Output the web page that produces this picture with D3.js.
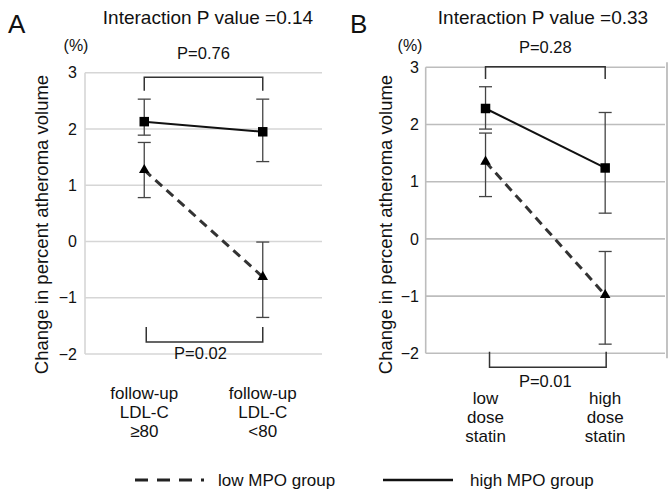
<!DOCTYPE html>
<html><head><meta charset="utf-8">
<script src="https://cdnjs.cloudflare.com/ajax/libs/d3/7.8.5/d3.min.js"></script>
<style>
body{margin:0;background:#fff;}
svg{display:block;font-family:"Liberation Sans",Arial,Helvetica,sans-serif;}
</style></head>
<body><svg id="c" width="669" height="491"></svg>
<script>
// ---- data ----
const panelLetters = ["A", "B"];
const interactionTitles = ["Interaction P value =0.14", "Interaction P value =0.33"];
const yTicks = [3, 2, 1, 0, -1, -2];
const categoriesA = ["follow-up\nLDL-C\n≥80", "follow-up\nLDL-C\n<80"];
const categoriesB = ["low\ndose\nstatin", "high\ndose\nstatin"];
// high MPO group (mean, lower, upper)
const highA = [2.13, 1.95];
const highALow = [1.89, 1.42];
const highAHigh = [2.53, 2.53];
const highB = [2.28, 1.24];
const highBLow = [1.92, 0.45];
const highBHigh = [2.66, 2.21];
// low MPO group
const lowA = [1.27, -0.63];
const lowALow = [0.78, -1.35];
const lowAHigh = [1.76, -0.01];
const lowB = [1.35, -0.98];
const lowBLow = [0.74, -1.84];
const lowBHigh = [1.85, -0.22];
const pTop = ["P=0.76", "P=0.28"];
const pBottom = ["P=0.02", "P=0.01"];
const yTitle = "Change in percent atheroma volume";
const legendLabels = ["low MPO group", "high MPO group"];

// ---- layout ----
const svg = d3.select("#c");
const panels = [
  {cats: categoriesA, high: highA, highLo: highALow, highHi: highAHigh,
   low: lowA, lowLo: lowALow, lowHi: lowAHigh,
   x0: 85, x1: 322, yTop: 72.7, yBot: 354, grid: "#d6d6d6", right: false,
   letterX: 8, titleX: 208, pctX: 76, tickX: 77, ytitleX: 41,
   topBr: [4.6, 18], botBr: [-12, -27], botLbl: -1.5, catY: 393},
  {cats: categoriesB, high: highB, highLo: highBLow, highHi: highBHigh,
   low: lowB, lowLo: lowBLow, lowHi: lowBHigh,
   x0: 425.7, x1: 665, yTop: 67.3, yBot: 353.3, grid: "#bdbdbd", right: true,
   letterX: 350, titleX: 543, pctX: 410, tickX: 419, ytitleX: 385,
   topBr: [-0.6, 11.7], botBr: [14, -1.6], botLbl: 27.4, catY: 398}
];

panels.forEach((p, i) => {
  const g = svg.append("g");
  const y = d3.scaleLinear().domain([-2, 3]).range([p.yBot, p.yTop]);
  const x = d3.scalePoint().domain(p.cats).range([p.x0, p.x1]).padding(0.5);

  // grid lines
  g.selectAll(".grid").data(yTicks).join("line")
    .attr("x1", p.x0).attr("x2", p.x1)
    .attr("y1", d => y(d)).attr("y2", d => y(d))
    .attr("stroke", p.grid).attr("stroke-width", 1.6);
  // left axis line
  g.append("line").attr("x1", p.x0).attr("x2", p.x0)
    .attr("y1", y(3)).attr("y2", y(-2)).attr("stroke", p.grid).attr("stroke-width", 1.6);
  if (p.right) {
    g.append("line").attr("x1", 667).attr("x2", 667)
      .attr("y1", y(3) - 5).attr("y2", y(-2) + 5).attr("stroke", "#9a9a9a").attr("stroke-width", 1.2);
  }
  // y tick labels via axis
  const ax = g.append("g").attr("transform", `translate(${p.tickX},0)`)
    .call(d3.axisLeft(y).tickValues(yTicks).tickSize(0).tickPadding(0)
      .tickFormat(d => d < 0 ? "\u2212" + Math.abs(d) : d));
  ax.select(".domain").remove();
  ax.selectAll("text").attr("font-size", 16).attr("fill", "#111")
    .attr("font-family", "Liberation Sans, Arial, sans-serif");

  // panel letter and title
  g.append("text").attr("x", p.letterX).attr("y", 33).text(panelLetters[i])
    .attr("font-size", 26).attr("fill", "#111");
  g.append("text").attr("x", p.titleX).attr("y", 24).attr("text-anchor", "middle")
    .text(interactionTitles[i]).attr("font-size", 19).attr("fill", "#111");
  g.append("text").attr("x", p.pctX).attr("y", 51).attr("text-anchor", "middle")
    .text("(%)").attr("font-size", 16).attr("fill", "#111");
  g.append("text").attr("transform", `translate(${p.ytitleX},224.5) rotate(-90)`)
    .attr("text-anchor", "middle").attr("dominant-baseline", "central")
    .text(yTitle).attr("font-size", 18.5).attr("fill", "#111");

  // category labels
  p.cats.forEach(c => {
    const t = g.append("text").attr("text-anchor", "middle").attr("font-size", 17).attr("fill", "#111");
    c.split("\n").forEach((ln, k) => {
      t.append("tspan").attr("x", x(c)).attr("y", p.catY + 6 + k * 19).text(ln);
    });
  });

  // brackets
  const xa = x(p.cats[0]), xb = x(p.cats[1]);
  const tY = y(3) + p.topBr[0], tY2 = y(3) + p.topBr[1];
  g.append("path").attr("d", `M${xa},${tY2}V${tY}H${xb}V${tY2}`)
    .attr("fill", "none").attr("stroke", "#333").attr("stroke-width", 1.5);
  g.append("text").attr("x", (xa + xb) / 2).attr("y", y(3) - 14).attr("text-anchor", "middle")
    .text(pTop[i]).attr("font-size", 16.5).attr("fill", "#111");
  const bY = y(-2) + p.botBr[0], bY2 = y(-2) + p.botBr[1];
  const xa2 = xa + (i === 0 ? 2 : 4), xb2 = xb + (i === 0 ? 0 : 1);
  g.append("path").attr("d", `M${xa2},${bY2}V${bY}H${xb2}V${bY2}`)
    .attr("fill", "none").attr("stroke", "#333").attr("stroke-width", 1.5);
  g.append("text").attr("x", (xa + xb) / 2 - (i === 0 ? 3 : 0)).attr("y", y(-2) + p.botLbl + 6).attr("text-anchor", "middle")
    .text(pBottom[i]).attr("font-size", 16.5).attr("fill", "#111");

  // error bars
  const series = [
    {m: p.high, lo: p.highLo, hi: p.highHi},
    {m: p.low, lo: p.lowLo, hi: p.lowHi}
  ];
  series.forEach(s => {
    p.cats.forEach((c, k) => {
      const cx = x(c);
      g.append("line").attr("x1", cx).attr("x2", cx).attr("y1", y(s.lo[k])).attr("y2", y(s.hi[k]))
        .attr("stroke", "#444").attr("stroke-width", 1.3);
      [s.lo[k], s.hi[k]].forEach(v => {
        g.append("line").attr("x1", cx - 6.5).attr("x2", cx + 6.5).attr("y1", y(v)).attr("y2", y(v))
          .attr("stroke", "#444").attr("stroke-width", 1.3);
      });
    });
  });

  // lines
  const line = d3.line().x(d => x(d.c)).y(d => y(d.v));
  g.append("path").datum(p.cats.map((c, k) => ({c, v: p.low[k]})))
    .attr("d", line).attr("fill", "none").attr("stroke", "#333")
    .attr("stroke-width", 3).attr("stroke-dasharray", "9,6");
  g.append("path").datum(p.cats.map((c, k) => ({c, v: p.high[k]})))
    .attr("d", line).attr("fill", "none").attr("stroke", "#111").attr("stroke-width", 2);

  // markers
  p.cats.forEach((c, k) => {
    g.append("path").attr("d", d3.symbol(d3.symbolSquare, 90)())
      .attr("transform", `translate(${x(c)},${y(p.high[k])})`).attr("fill", "#000");
    g.append("path").attr("d", d3.symbol(d3.symbolTriangle, 48)())
      .attr("transform", `translate(${x(c)},${y(p.low[k])})`).attr("fill", "#000");
  });
});

// legend
const lg = svg.append("g");
lg.append("line").attr("x1", 135).attr("x2", 204).attr("y1", 480).attr("y2", 480)
  .attr("stroke", "#222").attr("stroke-width", 3).attr("stroke-dasharray", "13,9");
lg.append("text").attr("x", 218).attr("y", 486).text(legendLabels[0]).attr("font-size", 17).attr("fill", "#111");
lg.append("line").attr("x1", 383).attr("x2", 453).attr("y1", 480).attr("y2", 480)
  .attr("stroke", "#111").attr("stroke-width", 2.5);
lg.append("text").attr("x", 470).attr("y", 486).text(legendLabels[1]).attr("font-size", 17).attr("fill", "#111");
</script></body></html>
